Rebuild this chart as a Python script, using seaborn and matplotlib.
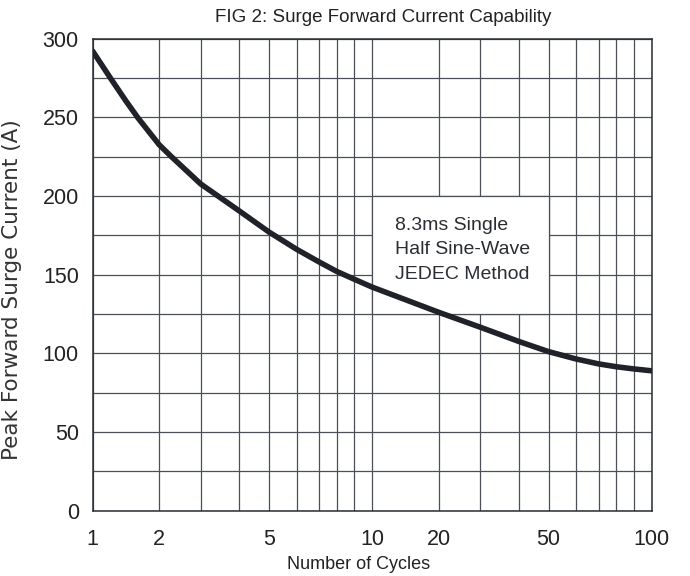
import numpy as np
import pandas as pd
import matplotlib
matplotlib.use("Agg")
import matplotlib.pyplot as plt
import seaborn as sns
from matplotlib.patches import Rectangle
from matplotlib.ticker import FixedLocator, FixedFormatter, NullFormatter

# ---- data ----
cycles = [1, 1.265, 1.5, 1.68, 2, 2.29, 3, 4, 5, 6, 7, 8, 9, 10,
          20, 30, 40, 50, 60, 70, 80, 90, 100]
current = [292, 275, 260.3, 249.6, 232.5, 225, 207.5, 190.5, 177, 166, 158,
           152, 147, 142, 126, 116.5, 107.5, 101, 96.3, 93.2, 91.4, 90, 88.8]

x_major = [1, 2, 5, 10, 20, 50, 100]
x_major_labels = ["1", "2", "5", "10", "20", "50", "100"]
x_minor = [3, 4, 6, 7, 8, 9, 30, 40, 60, 70, 80, 90]
y_major = [0, 50, 100, 150, 200, 250, 300]
y_minor = [25, 75, 125, 175, 225, 275]

title = "FIG 2: Surge Forward Current Capability"
xlabel = "Number of Cycles"
ylabel = "Peak Forward Surge Current (A)"
note = "8.3ms Single\nHalf Sine-Wave\nJEDEC Method"

# ---- chart-paper scale (the printed decade grid is not a pure log scale) ----
decade_mult = [1, 2, 3, 4, 5, 6, 7, 8, 9, 10]
decade_frac = [0, 0.238, 0.387, 0.524, 0.631, 0.730, 0.810, 0.873, 0.936, 1.0]


def fwd(x):
    x = np.clip(np.asarray(x, dtype=float), 1e-12, None)
    d = np.floor(np.log10(x) + 1e-12)
    m = x / 10.0 ** d
    return d + np.interp(m, decade_mult, decade_frac)


def inv(y):
    y = np.asarray(y, dtype=float)
    d = np.floor(y)
    r = y - d
    return np.interp(r, decade_frac, decade_mult) * 10.0 ** d


df = pd.DataFrame({"cycles": cycles, "current": current})

sns.set_theme(style="white")
plt.rcParams["font.family"] = ["Liberation Sans", "DejaVu Sans"]

fig = plt.figure(figsize=(6.9, 5.76), dpi=100)
ax = fig.add_axes([0.1343, 0.1137, 0.8101, 0.8194])

grid_color = "#4b5057"
ink = "#1f2329"

ax.set_xscale("function", functions=(fwd, inv))
ax.set_xlim(1, 100)
ax.set_ylim(0, 300)

ax.xaxis.set_major_locator(FixedLocator(x_major))
ax.xaxis.set_major_formatter(FixedFormatter(x_major_labels))
ax.xaxis.set_minor_locator(FixedLocator(x_minor))
ax.xaxis.set_minor_formatter(NullFormatter())
ax.yaxis.set_major_locator(FixedLocator(y_major))
ax.yaxis.set_minor_locator(FixedLocator(y_minor))
ax.yaxis.set_minor_formatter(NullFormatter())

ax.set_axisbelow(True)
ax.grid(True, which="both", color=grid_color, linewidth=0.9)

# white annotation panel (covers the grid between 10-50 cycles, 125-200 A)
ax.add_patch(Rectangle((10, 125), 40, 75, facecolor="white",
                       edgecolor=grid_color, linewidth=0.9, zorder=1))

sns.lineplot(data=df, x="cycles", y="current", ax=ax, color=ink,
             linewidth=4.0, zorder=3, legend=False)
for ln in ax.lines:
    ln.set_solid_capstyle("round")
    ln.set_solid_joinstyle("round")

ax.text(0.541, 0.552, note, transform=ax.transAxes, ha="left", va="center",
        fontsize=14, color="#2a2e33", linespacing=1.6, zorder=4)

for s in ax.spines.values():
    s.set_visible(True)
    s.set_color("#2a2e33")
    s.set_linewidth(1.1)

ax.tick_params(which="both", length=0, labelsize=15.5, colors="#222222")
ax.tick_params(axis="x", pad=13)
ax.tick_params(axis="y", pad=10)

ax.set_title(title, fontsize=13.5, color="#222222", x=0.519, pad=12)
ax.set_xlabel(xlabel, fontsize=13, color="#222222")
ax.xaxis.set_label_coords(0.4755, -0.097)
ax.set_ylabel(ylabel, fontsize=15.5, color="#333333", family=["DejaVu Sans"])
ax.yaxis.set_label_coords(-0.1265, 0.467)

fig.savefig("out.png", dpi=100)
